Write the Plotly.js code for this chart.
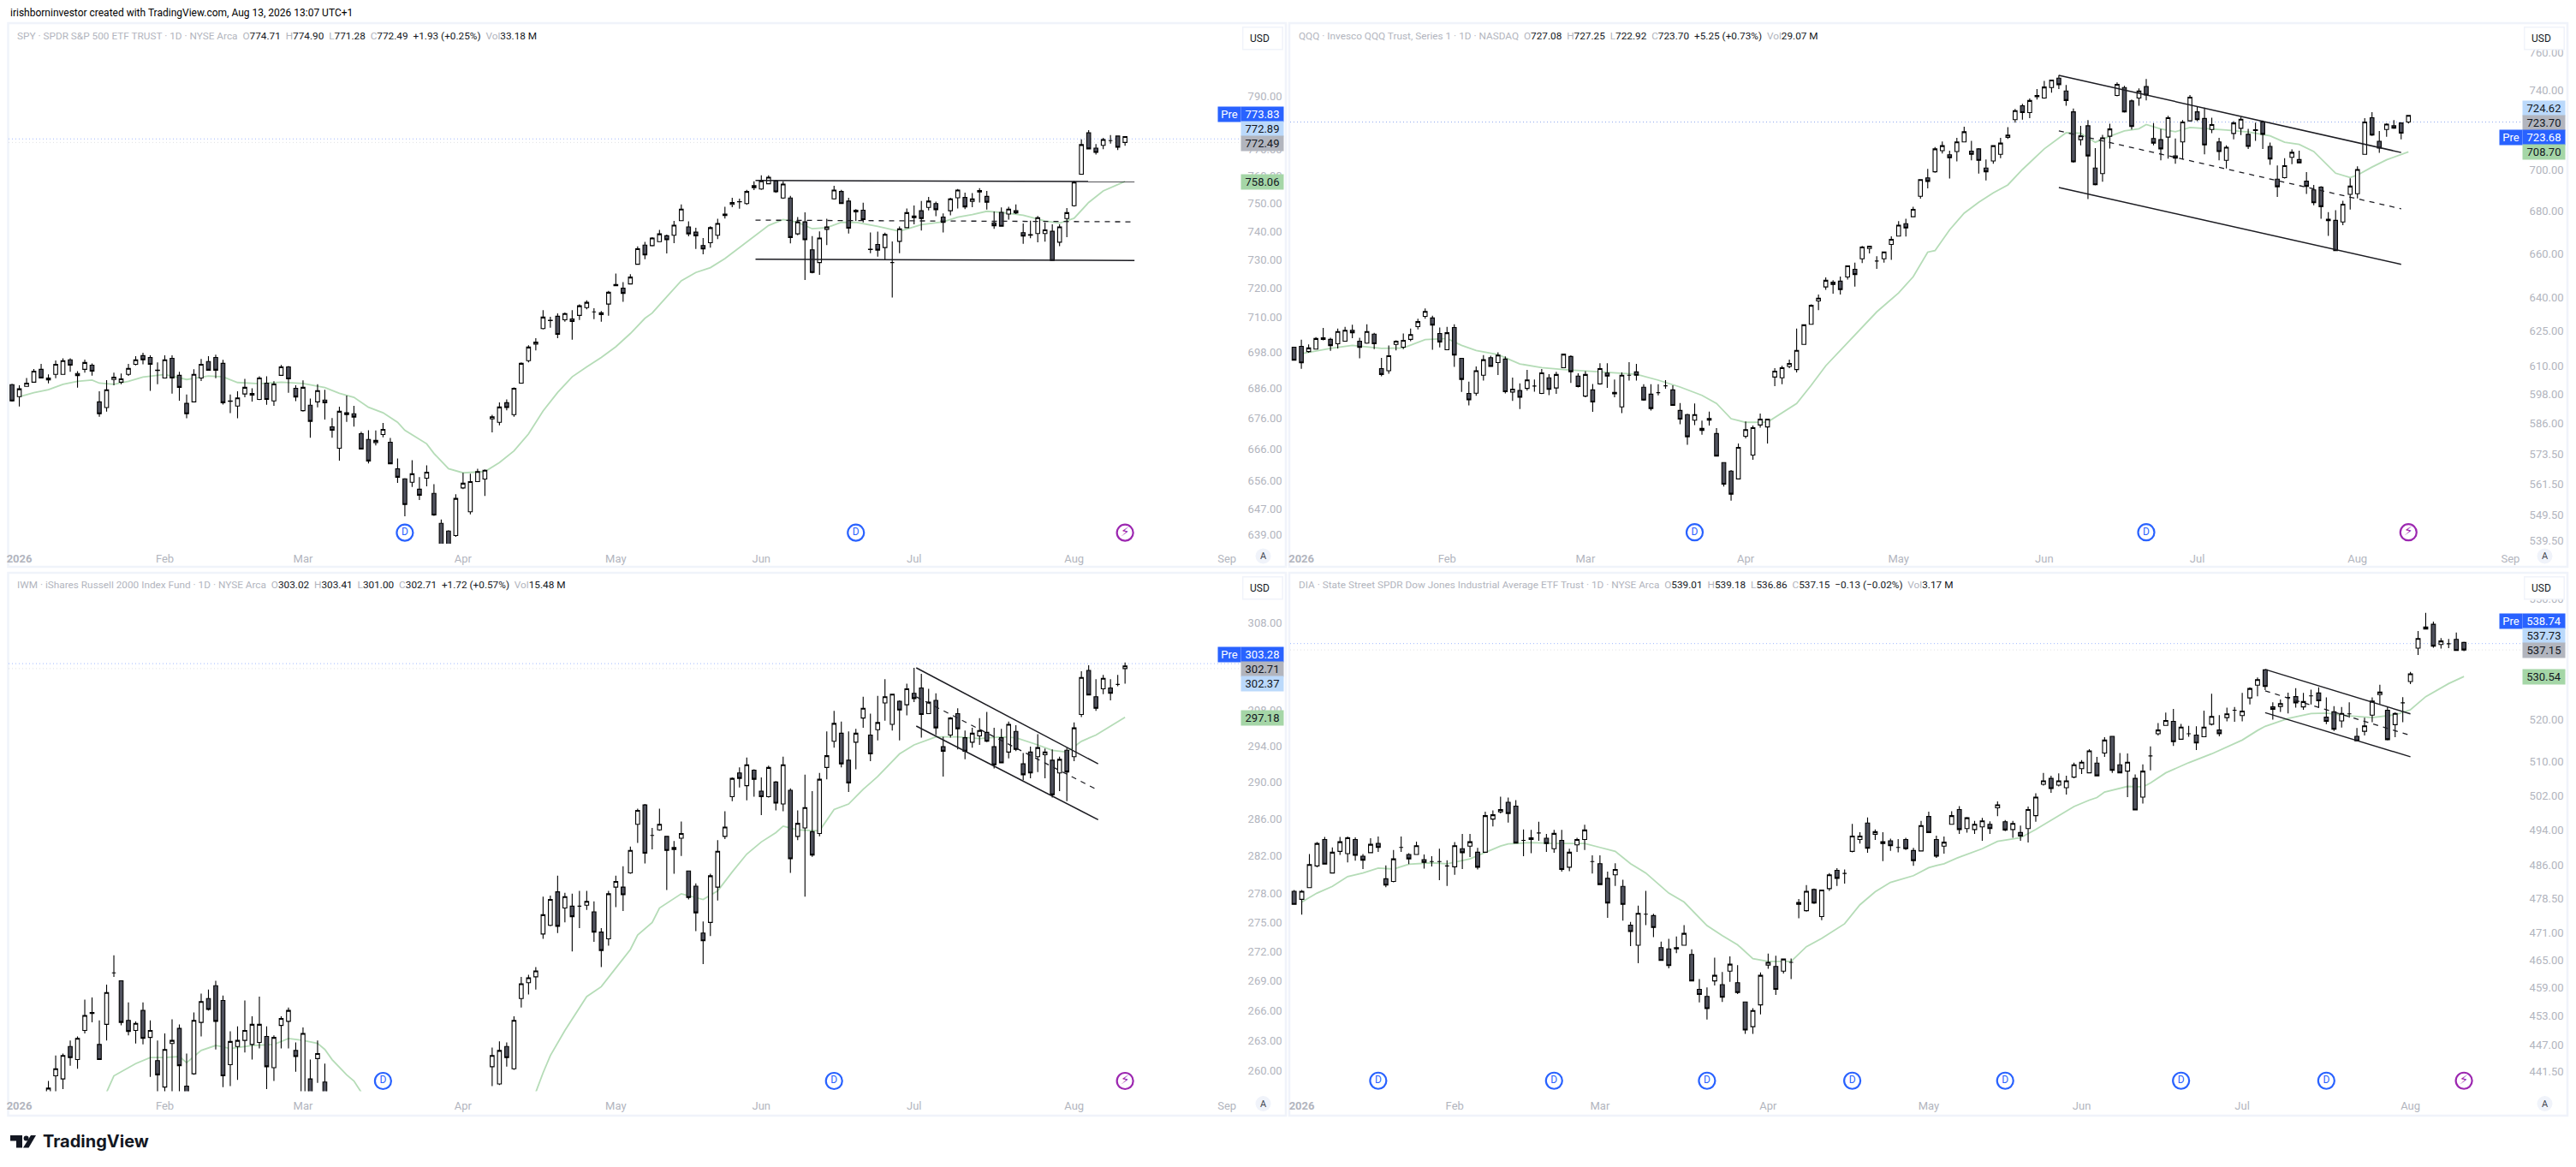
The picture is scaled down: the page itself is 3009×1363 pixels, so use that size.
<!DOCTYPE html>
<html>
<head>
<meta charset="utf-8">
<script src="https://cdn.plot.ly/plotly-3.0.1.min.js"></script>
<style>html,body{margin:0;padding:0;background:#fff}#c{width:3009px;height:1363px}</style>
</head>
<body>
<div id="c"></div>
<script>
// Columns of each bar table: body top, body bottom, high, low, hollow(1)/filled(0)
const spyBars=[
[687.1,681.7,687.4,681.5,0],[685.7,683.1,686.9,679.9,1],[687.6,686.5,689.3,686.4,1],[691.6,687.9,692.3,687.8,1],[692.2,689.3,694,689.2,0],[689.3,688.7,690.5,687.5,0],[693.9,690.5,695.2,689.2,1],[695.1,690.5,695.9,690.4,1],[695.4,693.6,695.9,691.4,0],[690.8,690.1,691.6,686.1,0],
[694.5,692.2,695.5,691.1,1],[693.6,691.6,694.2,690.1,0],[681.4,677.5,684.9,676.5,0],[685.4,679.5,688.6,678.2,1],[689.6,688.8,691.1,686.9,1],[689,687.9,690.8,687.2,1],[692.5,690.5,694,690,1],[695.4,693.9,696.6,693.5,1],[696.8,695.4,697.8,693.9,0],[696.2,693.9,696.9,685,0],
[691.9,691.8,694.5,687.2,0],[695.4,689.3,696.9,689.2,1],[695.9,689.3,696.9,684.1,0],[690.2,686.2,691.4,681.8,0],[680.9,677.5,683.8,676,0],[690.5,681.4,692.2,681.2,1],[693.9,689.3,695.7,688.3,1],[694.8,691.9,696.6,691.8,0],[696.2,691.9,697.1,689.2,0],[694.2,681.1,695.4,680.5,0],
[681.7,681.6,683.8,677.7,0],[682.7,680,684.9,676,1],[686.2,684,689,682.9,1],[684.2,683.6,685.9,681.5,0],[689.3,682.2,689.9,682,1],[687.6,682.2,689.9,680.4,0],[687.3,681.7,688.2,680.1,1],[693,690.2,693.7,690,1],[693,689,693.3,684.4,0],[685.9,683,686.9,681.6,0],
[686.2,678.5,688.5,678.2,1],[680.3,675,682.5,669.7,0],[685.1,681.4,687.2,679.6,1],[682,681.1,685.4,675.6,0],[673.2,672.1,676.1,669.7,0],[678.3,666.3,679.8,662.3,1],[677.8,677.2,683.5,674.8,0],[677.5,676.4,680.1,673.3,0],[671,666,671.6,665.9,0],[669.1,662.2,672.1,661.4,0],
[668.8,668.1,672,667.2,1],[672.4,670.7,674.5,669.8,1],[668.2,661.3,669.6,661.2,0],[659.7,657,663,655.2,0],[656.5,648.4,656.7,644.7,0],[658.1,655.4,662.4,653.9,1],[653.2,651.3,657,649.8,0],[658.6,656.7,660.8,654.1,1],[651.9,645.1,654.8,644.8,0],[642.5,634.5,643.7,633.6,0],
[640.1,634.9,640.4,633.6,0],[650.3,638.7,651.6,638.3,1],[655.1,653.6,658.4,653.2,1],[655.6,646.1,658.1,645.3,1],[658.8,655.6,659.7,655.5,1],[659.2,656.4,659.5,651.1,1],[676.5,675.8,677.1,671.4,1],[679.7,674.7,681.2,673.7,1],[681.1,679.5,682.2,678.6,0],[685.9,677.2,686.2,676.5,1],
[694.2,687.6,694.5,687.5,1],[699.7,695.1,700.3,694.5,1],[701.4,700.7,702.7,698.6,1],[709.9,706,712.3,705.7,1],[708.8,708.7,710,706.3,1],[710.2,704,711.2,702.7,0],[711.1,709,711.5,708.3,1],[709.3,708.4,712.3,702.2,0],[713.8,710.5,714.3,708.9,1],[715,713.2,715.7,712.6,1],
[711.7,711.7,713,709.2,1],[711.4,710.8,712,708.3,0],[718.5,714.4,719,710.4,1],[721.2,720.8,725,720.8,1],[719.9,718.1,722,715.2,0],[723.8,721.4,724.8,721.4,1],[733.8,728.3,734.6,728.3,1],[735.1,731.6,736.2,730.1,0],[737.6,734.9,737.9,734.6,1],[739.1,736.3,740.5,736.3,1],
[738.4,737,738.8,732.1,0],[742.2,738.6,743.7,735.8,1],[748,743.8,749.7,743.7,1],[741.6,739.1,743.6,738.2,0],[739.7,738.4,741.3,733.7,0],[734.9,733.7,737.6,731.8,0],[741.3,735.9,741.8,734.2,1],[742.8,738.6,744.5,737.2,1],[746.2,745.7,748.8,744.6,1],[750.4,749.7,752.1,748.7,1],
[750.7,750.6,751.8,748.1,0],[754.4,750,755,749.5,1],[756.5,755.8,758.1,754.9,1],[758.3,755.3,760.3,755,1],[759.6,757.2,760.3,757.1,1],[758.2,754.3,758.5,753.9,0],[757.1,752,758.1,751.7,1],[752,737.8,752.8,735.7,0],[743.4,739.1,745.1,738.6,1],[743.4,737,746.8,722.8,0],
[733.4,725.4,738.3,725.1,0],[737.6,728.9,740,724.6,1],[741.6,740.7,744.5,735.1,1],[754.9,751.7,756.5,751.5,1],[754.4,750,755,749.9,0],[750.9,741.1,752.1,739.2,0],[747.6,747,748,743.7,1],[747.6,744.2,750.3,743.2,0],[733.6,733.5,739.6,732.2,0],[735.3,733.3,739.9,731,0],
[738.9,734.2,739.5,729.7,1],[728.9,728.9,736.4,716.7,0],[740.9,736.4,741.7,732.2,1],[746.7,741.3,748.2,741.1,1],[745.5,744.9,749.3,742.5,0],[747.4,744.6,750.9,740.3,0],[750.9,748.6,752.4,747.5,1],[750,747.8,750.7,745.4,0],[745.1,743.2,746.4,739.6,0],[751.7,747.4,752.1,745.7,1],
[754.9,752.1,755.3,748.2,1],[752.2,748.8,754,748,0],[751.7,750.8,753.8,748.7,1],[754.7,754.2,755.6,750.4,0],[752.6,750.5,754.6,747.8,0],[743,742,747.1,740.9,0],[746.8,741.8,748.6,741.7,0],[748,746.2,748.8,744.2,1],[747.4,746.6,749.7,746.2,0],[739.5,738.3,742.8,735.5,0],
[738.8,738.6,743.8,737.5,0],[744.9,739.2,745.5,736.1,1],[740.5,739.2,743.2,736.3,1],[740,729.6,742.5,729.5,0],[741.6,736.1,742.5,734.7,1],[746.7,744.6,748.4,737.9,1],[757.8,749.2,758.3,748.9,1],[771.7,760.7,773.7,760.6,1],[776.1,770.1,777.1,770,0],[770.4,768.8,771.9,768,0],
[773.6,771.4,774.2,770,1],[773.2,773.2,775.3,772.1,1],[774.9,770.7,775,769.7,0],[774.7,772.49,774.9,771.28,1]];

const qqqBars=[
[618,612.4,618,612.4,0],[618.4,611.3,621.3,608.7,0],[617.7,616.1,619.2,615.6,1],[621.8,617.2,622.4,617,1],[622.1,621.4,626.4,621,1],[621.4,618.7,622.1,616.4,0],[624.8,619.5,626.1,617.5,1],[625.4,620.6,626.9,620.5,1],[625.4,624.3,627.8,621.9,0],[620.6,617.9,622.1,613.2,0],
[624.8,619.8,628,619.5,1],[623.7,619.5,624.3,617.2,0],[608.8,606.3,613.4,605.5,0],[614.3,607.9,618.8,606.6,1],[620.6,619.2,621,616.6,1],[621,618,624,617.2,1],[623.5,621.4,626.1,620.6,1],[629.2,627,630.5,625.8,1],[633.7,631.5,635,630.5,1],[630.8,627.7,631.8,616.9,0],
[624,620.3,626.6,617.9,0],[624.3,616.9,626.9,616.7,1],[626.6,614.6,628,609.5,0],[613.2,604.2,613.4,598.9,0],[598.3,595.6,603.3,593.3,0],[607.9,598.4,609.7,597.3,1],[612.6,606,614.6,603.7,1],[613.5,609.7,614.3,609.5,0],[614.6,611.4,615.8,606.1,1],[612.9,599,614,598.3,0],
[600.1,598.9,605,595.2,1],[599.5,596.7,602.5,591.8,0],[604,600.4,608.3,599.5,1],[601.4,601.4,604.2,599,0],[607,598.3,608.6,598,1],[604.9,600,606.4,597.6,0],[606.3,600.6,607.4,598.1,1],[615,609.2,615.1,609,1],[614,607.5,614.5,602.7,0],[605.6,601.2,606.8,600.8,0],
[606.3,597.2,607.7,596.7,1],[599.8,594.7,602.3,590.6,0],[608.8,602.3,611.1,602,1],[606.9,605.6,611.1,600.6,0],[598.7,598.1,604.2,596.7,0],[606,592.7,607.2,590.1,1],[606,606,611.6,603.7,0],[607.4,606,610.8,603.7,0],[600.9,595.5,602.2,595.3,0],[598,592,602.2,591.2,0],
[598.6,598.6,602.2,597.5,1],[601.5,601.5,603.9,600.3,1],[599.8,593.3,601.7,593.2,0],[591.2,587.6,594.3,585.5,0],[589.5,580.4,589.8,577.1,0],[589.5,587.2,594.1,585.2,1],[583.8,583,587,581.2,0],[587.9,587.2,590.7,585,1],[581.7,572.6,583.9,572.5,0],[570,561.4,570,560.5,0],
[566.6,557.5,567,555,0],[576.1,563.5,577.7,563.3,1],[583.3,580.6,586.7,579.7,1],[584.1,573,585,571.1,1],[587.6,585.2,589.9,584.1,1],[587.6,584.4,587.8,577.7,1],[607.7,605.2,609,601.4,1],[609.2,604.9,610,602.2,1],[611,609.7,612.7,609,1],[616.6,608.4,626.1,607.2,1],
[627.8,619.2,628,619,1],[636.4,628,636.8,627.8,1],[639.6,638.4,641.3,634.3,1],[647.7,644.7,649,643.4,1],[646.8,645.8,647.7,641.6,0],[647.3,643.5,649.4,641.3,0],[654.3,649.2,654.4,648,1],[652.7,650.3,655.8,644.8,0],[663,657.5,663.5,655.6,1],[663.4,662.3,663.5,660,1],
[656.5,656.5,658.7,652.9,1],[660.7,657.5,660.7,655.8,1],[666.6,664.2,668,657,1],[673.2,668.1,675.1,667.9,1],[673.9,671.9,676.2,667.9,0],[680.7,677.2,682,677,1],[695.1,687,695.3,685.9,1],[695.9,694.2,700.3,690.8,0],[710.2,698.9,711.1,698.4,1],[711.8,709.3,713.9,707.9,1],
[707.3,705.8,709.3,695.6,0],[713.7,708.9,715.7,704,1],[718.8,713.7,721.3,713.5,1],[709.1,707.5,714.2,704.5,0],[710.2,704.5,710.6,698,0],[700.7,698.9,704.9,694.7,0],[711.8,704.2,712,702.8,1],[713.1,707.5,715.7,705.6,1],[717.1,716,721.1,715.2,1],[729.5,724.9,730.4,723.4,1],
[732,728.5,733,724.9,0],[734.7,728.5,735.8,725.7,1],[737.3,736.7,740.6,735.2,0],[741.7,736,744.9,735.6,1],[745.3,741.4,745.5,738.7,1],[746.3,742.9,747.9,740.6,0],[739.6,734.7,742.7,732,0],[728.9,703.8,730.6,703.4,0],[716.7,714.8,721.8,712,1],[721.8,706.7,724.7,685.6,0],
[700.7,692.6,710.6,692.3,0],[715.7,698,717.2,694,1],[720.2,716.5,722.8,710.4,1],[743.1,737.3,744.1,736.9,1],[741.4,728.9,742.3,728.5,0],[734.5,721.4,735.2,719.9,0],[739.6,736,741,732,1],[741.9,737.5,745.9,734.8,0],[715.4,713.1,723.2,712,0],[714.8,710.2,720.2,704.5,0],
[725.9,716.1,726.9,705.4,1],[706.7,705.6,715.4,702.8,0],[723.7,713.7,724.7,704.9,1],[736.4,724.3,737.5,723.9,1],[728.9,724.9,731.6,724.1,0],[725.5,712.2,731,707.5,0],[722.4,719.9,725.9,718.1,1],[713.7,708.9,715.7,704.5,0],[711,704.5,712,700.5,1],[723.2,717.9,724.1,715,1],
[725.1,720.5,726.3,717.1,1],[717.5,711.4,720.2,710.2,0],[719.8,719.4,723.4,714.2,0],[723.7,717.5,724.5,710.2,0],[711.4,705.2,713.3,702.3,0],[695.3,691.6,702,686.7,0],[701.9,696,705.6,695.6,1],[708.5,706,709.9,702.6,1],[704.9,703.3,709.3,703.1,0],[694.3,691.8,698.7,688.1,0],
[690.1,683.9,692.5,682.7,0],[691.4,682,691.8,676.2,0],[676,675.3,679.4,668.2,0],[675.5,661.3,680.3,661.3,0],[683.2,674.7,684.8,673.2,1],[691.9,687.9,695.7,680.6,1],[700,688.2,701.6,686,1],[723.7,707.5,725.7,707.3,1],[725.9,717.1,728.7,716.7,0],[714,710.6,719.2,708.2,0],
[722.6,719.9,723,716.3,1],[721.8,720.6,724.7,720.2,0],[723.2,718.1,723.4,715,0],[727.08,723.7,727.25,722.92,1]];

const iwmBars=[
[null,null,null,null,1],[null,null,null,null,1],[null,null,null,null,1],[null,null,null,null,1],[null,null,null,null,1],[258.3,256,259,255.5,1],[260.2,259.5,261.5,257.6,1],[261.5,259.2,261.7,258.2,1],[262.4,261.3,263,260.5,0],[263.2,261.1,263.4,260.2,1],
[265.5,264,267.1,263.7,1],[265.8,265.7,267.3,264.8,0],[262.6,261.1,265,261.1,0],[267.8,264.6,268.6,263,1],[269.8,269.8,271.6,269.4,0],[269,264.8,269,264.5,0],[265,263.9,266.8,263.5,0],[264.7,264,264.9,262.7,1],[266,263.2,266.8,262.6,0],[264,263.3,265,259.4,1],
[261,259.6,263,257.6,0],[262.1,258.4,263.7,257.7,1],[263,262.7,265.1,257.6,1],[264.2,260.5,264.6,257.4,0],[258.5,256.8,261.7,256,0],[265,259.7,265.8,259.6,1],[266.9,264.8,267.7,263.4,1],[267.2,266.1,268.1,266,0],[268.5,264.9,269,262.1,0],[267,259.5,267.5,258.4,0],
[262.9,260.6,263.9,258.5,1],[263,262.4,264.4,259.1,1],[264,263,267,261.8,1],[264.6,262.6,265.4,261.1,1],[264.6,262.8,267.4,262.2,1],[263.4,260.4,264.4,258.2,0],[263.3,260.3,263.5,259,1],[265.2,264.5,265.4,262.2,1],[266,264.9,266.3,262.2,1],[262,261.4,262.8,259.9,0],
[263.7,257.6,264.3,257.4,1],[259.2,256.9,261.1,256.5,0],[261.7,261.2,263,258.8,1],[258.9,256.9,260.7,256.5,0],[null,null,null,null,1],[null,null,null,null,1],[null,null,null,null,1],[null,null,null,null,1],[null,null,null,null,1],[null,null,null,null,1],
[null,null,null,null,1],[null,null,null,null,1],[null,null,null,null,1],[null,null,null,null,1],[null,null,null,null,1],[null,null,null,null,1],[null,null,null,null,1],[null,null,null,null,1],[null,null,null,null,1],[null,null,null,null,1],
[null,null,null,null,1],[null,null,null,null,1],[null,null,null,null,1],[null,null,null,null,1],[null,null,null,null,1],[null,null,null,null,1],[261.5,260.4,262.3,258.5,1],[262,258.7,262.9,258.6,1],[262.4,261.3,262.8,260.4,0],[265,260.2,265.4,260.1,1],
[268.7,267.2,269.4,266.3,1],[269.3,268.8,269.6,267.6,1],[270,269.4,270.4,268.1,1],[275.8,273.8,277.7,273.3,1],[277.4,274.7,277.8,274.6,1],[278.2,274.6,279.9,273.9,0],[277.7,276.5,278.1,275,1],[276.7,275.6,278,272,0],[276.7,276.7,278.3,274.4,1],[277.2,276.8,278.3,276.3,1],
[276.1,274,277.2,273,0],[274,272.1,274.4,270.4,0],[278,273.3,278.3,272.6,1],[279.3,278.7,279.9,276.6,1],[278.7,277.9,280.9,276.2,0],[282.6,280.2,283,280.1,1],[286.9,285.4,287.1,283.4,1],[287.5,282.3,287.6,281.2,0],[284.2,284.2,285,282.7,0],[285.4,284.8,287.1,284.7,1],
[284.1,282.6,284.1,278.4,0],[282.9,282.7,283.6,280.1,1],[284.4,283.9,285.7,282,1],[280.4,277.6,280.4,277.4,0],[278.8,276,279.1,274.1,0],[273.9,273.1,275.1,270.7,0],[279.9,275,280.1,273.6,1],[282.5,278.7,283.7,277.3,1],[285.1,284.1,286.8,283.8,1],[290.4,288.4,290.5,287.9,1],
[291,290.4,291.6,289.4,0],[291.9,289.6,292.7,288,1],[291.3,290.3,291.4,288.4,0],[289,288.4,290.5,286.4,0],[291.6,288.4,291.8,288.3,1],[290,287.7,290.1,286.9,0],[291.9,287.6,292.8,286.8,1],[289.1,281.7,289.3,280.2,0],[285.5,284.1,286.9,283.7,1],[287.2,285,290.8,277.7,1],
[284.6,282.1,289,281.9,0],[290.3,284.4,291,284.1,1],[292.9,291.6,295.6,290.3,1],[296.5,294.5,297.9,293.8,1],[295.4,292,296.7,291.6,0],[292.4,289.9,295.6,288.9,0],[295.4,294.4,295.9,291.4,1],[298.2,297.1,299.5,296,1],[295.2,293.1,297.6,292.3,0],[296.6,295.8,299.6,294.6,1],
[299.5,298.8,301.5,296.8,1],[299.8,296.4,299.8,295.7,1],[299,298,299.1,294.6,0],[300.4,298.6,301,297.4,1],[299.9,299.3,302.8,298.9,0],[300.5,297.5,302.1,294.9,0],[298.9,297.6,300.4,297.6,1],[299.1,296,299.9,295.2,0],[293.9,293.4,295,290.6,0],[297.1,295.2,297.2,294.9,1],
[297.6,295.9,298.2,293.6,0],[294.9,293.4,295.7,292.5,0],[295.4,294.4,296,293.8,1],[295.7,295.1,297.1,294.1,1],[295.5,294.5,297.8,294.4,0],[293.9,291.9,296,291.5,0],[294.9,292.1,295.9,292.1,0],[296.4,293.3,296.7,292.6,1],[295.6,293.6,296.3,293.4,0],[292,290.8,293.2,290.2,0],
[293.3,291,293.9,290.4,0],[293.8,292.8,295.3,291.1,1],[293.3,293,293.7,290.4,1],[292.4,288.6,293.6,288.3,0],[292.5,291,292.8,289,1],[293.5,291.1,293.8,287.9,0],[296,292.8,296.6,292.3,1],[301.7,297.5,302.4,297.2,1],[302.5,299.7,303.1,299.7,0],[299.5,298.2,301.5,297.9,0],
[301.6,300.4,302,299.8,1],[300.5,299.9,301.5,299.1,0],[300.9,300.9,302,300.7,1],[303.02,302.71,303.41,301,1]];

const diaBars=[
[480.1,477.2,480.4,477.1,0],[480.1,478.3,480.4,474.9,1],[486.1,480.9,488.5,480.8,1],[490.9,485.8,491.2,485.5,1],[491.8,486.2,492.4,486.1,0],[488.9,484.2,490,484.1,1],[491.3,489.1,492.4,488.3,1],[492.2,488.6,492.5,486.6,1],[491.8,488.2,492.3,487,0],[488,487.1,488.5,485.1,0],
[490.7,488.8,492.1,488.7,1],[490.9,490,492.5,489,0],[482.9,481.5,485.9,481,0],[487.4,482.3,489.4,482.1,1],[490,490,492.5,489,0],[488.4,487.4,488.7,486.2,0],[490.4,488.4,491.3,488.3,1],[487.2,486.6,488.4,485.2,0],[486.8,486.8,488,485.7,0],[486.8,486.8,489.7,482.6,1],
[485.8,485.8,487.1,481.3,0],[490.4,485.6,491.2,483.8,1],[489.7,488.8,493.1,485.1,0],[491.3,490.3,493.1,487.8,1],[488.9,485.5,489.9,485,0],[497.3,488.9,498.2,488.8,1],[497.5,496.5,498.5,494.8,1],[498.7,498.2,501.7,497.8,1],[500.4,497.8,501.5,495.7,0],[499.5,491,500.9,490.9,0],
[491.6,491.6,494.1,488,0],[492.2,491.8,494,488.7,1],[493.3,493.3,495.9,491.5,0],[492.1,490.9,493.1,489,0],[493.2,489.7,494,488.8,1],[491.6,485,494,484.5,0],[488.9,485.5,489.7,484.6,1],[491.8,490.6,492.2,489,1],[494,491.8,495.2,489.4,1],[486.8,486.8,488.2,484.1,1],
[486.3,481.6,488.2,481.5,0],[483,477.5,484.5,474.2,0],[485,483.8,486.4,481.3,1],[481.2,477.2,482.7,473.6,0],[472.6,471.2,473.3,468,0],[475.2,468.2,476.9,464.3,1],[475,475,480.2,472.6,1],[474.7,472.1,475.1,470,0],[467.7,464.9,469,464.8,0],[467.4,463.8,469.6,463.2,0],
[467.7,467.4,470.1,466.5,1],[470.8,468.2,472.6,468.1,1],[466.2,460.5,467.3,460.4,0],[458.7,457.6,460.9,455.9,0],[457.2,454.6,459.1,452.3,0],[461.7,460.5,465.5,459.5,1],[459.7,457,462.4,456,0],[464.1,462.6,465.8,460.3,1],[460.1,458,463.9,457.7,0],[456,450.1,456.1,449.3,0],
[454.2,450.8,454.7,449.3,1],[461.7,455.4,462.3,453.4,1],[464.5,463.9,466.4,463.1,1],[463.6,458.7,465.9,457.5,0],[465.2,462.6,465.3,462.1,1],[464.5,464.5,465.3,460.9,1],[477.6,477.2,478.4,474.1,0],[480.1,475.8,481.5,475.6,1],[480.5,477.5,480.7,477.3,0],[480.4,474.5,480.5,473.7,1],
[483.8,480.7,484.2,480.2,1],[484.8,483,485.3,481.3,0],[484.1,484.1,485,481.8,1],[492.6,489.1,495.4,488.9,1],[492.6,491.8,493.5,490.9,1],[495.6,489.8,496.9,488.8,0],[493.6,493,494.1,491.7,1],[491.3,490.9,493.5,486.9,0],[491.5,490.4,492,489.2,0],[490,490,491.9,488.9,1],
[491.8,489.7,492.2,489.4,0],[489.3,487,489.9,485.8,0],[495,489.2,496.1,489.1,1],[497.1,493.4,498.2,493.3,0],[491.8,488,492.7,487.6,0],[491.2,490.3,492.5,488.6,1],[497.3,495.3,498.3,495.2,1],[498.7,494.1,499.5,493.1,0],[496.8,494.3,497,493.4,1],[495.3,494.1,496.1,493.1,1],
[496.1,494.7,496.8,491.5,1],[495.3,494.3,496,493.1,0],[499.8,499.1,500.6,497.2,1],[495.9,494,496.3,493.7,0],[495.5,494.1,496.1,492.2,1],[493.4,492.6,495,491.5,0],[498.7,494.3,499.4,491.1,1],[501.6,497.3,502.5,495.9,1],[505.4,504.6,507.3,504.3,1],[506,503.6,506.6,502.6,0],
[505.4,504.4,507.2,504.1,1],[505.4,503.8,506.6,502.2,1],[509.2,506.3,509.7,506,1],[509.8,508.3,510.3,507,1],[512.5,507.3,512.9,507.2,1],[509.6,506.6,511.1,506.5,0],[515.1,512,515.8,511.1,1],[516,507.9,516,507.3,0],[509.2,507.3,512,507.2,0],[509.8,507.7,511.9,501.6,1],
[506,498.6,506.9,498.5,0],[507.7,501.6,509.3,500.1,1],[511.3,511.3,513.6,507.9,1],[517.5,516.6,519.2,516.2,1],[519.8,518.6,521.7,518.5,1],[519.6,514.7,522.6,513.7,0],[518.2,515.3,519,515.2,1],[516.6,516.6,518.5,515.9,0],[516.3,514.4,518.4,512.7,0],[518.2,515.9,522.2,515.8,1],
[520.8,518.9,526.3,518.6,1],[517.5,516.6,521.1,516,0],[521.4,520.5,522.9,519.6,1],[522.3,522.3,523.1,519.5,1],[522.1,521,526.5,519.6,1],[527.6,525.3,527.9,523.7,1],[529.8,528.4,530.3,525.7,1],[532.2,528.1,532.4,527.2,0],[523.1,522.5,524.2,520,0],[523.9,523.2,524.9,521.9,1],
[525.4,525.4,526.6,521.5,1],[525.6,524.1,527.7,522.9,0],[524.4,523.1,526.5,522.4,1],[525.8,525.8,527.3,523.7,1],[526.5,524.6,527.9,522.9,0],[520.6,519.6,525.4,518.9,0],[521.9,517.7,523.3,517.3,0],[521.5,519.7,523.1,518.1,1],[521.4,521.4,524.2,520.5,1],[516,514.9,518,514.8,0],
[518.5,517.2,520.5,516.2,1],[524.5,521.1,525.4,519.4,1],[526.7,526.1,528.5,523.8,1],[522.3,515.2,523,515,0],[521.5,518.8,521.8,515.8,1],[524.1,524.1,525.5,519.4,0],[531.2,529.3,531.7,528.7,1],[540,537.6,541.9,535.9,1],[542.9,542.4,546.5,542.3,1],[543.6,538.1,544.3,537.7,0],
[539.4,538.5,540.1,537.5,1],[538.7,538.7,539.9,537.6,0],[539.8,537,541.5,536.9,0],[539.01,537.15,539.18,536.86,0]];

// Moving-average lines: bar number, price (null breaks the line)
const spyMaX=[1,3,5,7,9,11,12,14,16,18,21,24,27,29,31,34,37,40,43,45,47,49,51,53,54,57,58,60,62,65,67,69,71,73,75,77,79,81,83,85,87,88,90,92,94,96,98,100,102,104,106,108,110,112,114,116,119,122,125,128,130,132,134,136,139,142,144,146,148,150,153];
const spyMaY=[683.1,684.4,685.4,687.2,688.2,688.6,687.6,687.2,688.2,689.6,690.5,688.8,690,689.7,687.8,687.4,687.9,687.5,686.1,684.2,682.9,679.6,677.8,674.7,672.1,667.7,664.6,659.7,658.4,658.8,661.7,665.4,670.9,678.4,684.5,689.7,693,696.2,699.8,704.3,709.5,711.3,716.9,722.5,725.4,727.1,730.3,734.2,738.2,742.1,744.2,743.2,740.9,741.3,743.2,743.2,741.8,740,742.4,743.4,745.1,746,747.2,746.8,745.8,743.7,742.9,744.7,750.4,754.6,758.06];
const qqqMaX=[1,5,8,12,15,18,21,23,25,28,31,34,37,40,43,47,50,53,56,58,60,62,65,69,71,73,76,78,80,83,85,87,88,90,92,94,96,98,100,103,106,108,110,112,114,116,117,119,121,123,125,128,131,134,136,138,140,142,143,145,146,148,150,153];
const qqqMaY=[615.2,617.5,618.8,617.5,617.7,621.3,621.8,618.8,616.6,614.8,610.8,609.2,608.4,607.9,607.2,606.4,603.9,601,597.5,594.1,587.8,586.3,586.4,594.1,601.7,610,620.1,627,633.5,642,649.3,660.6,661.3,671,678.9,684.1,688.6,692.5,700,710.2,718.3,718,713.5,716.5,719.2,720.3,722.4,720.2,718.8,720.9,720.5,719.6,718.7,716.7,713.5,712.4,708.9,701.9,698.2,696.1,697.3,701.2,704.8,708.7];
const iwmMaX=[13,14,17,19,21,23,24,26,28,30,33,36,38,40,42,43,44,46,47,48,49,72,73,74,76,79,81,83,85,86,88,89,91,92,95,97,99,101,103,105,106,108,111,113,115,117,119,122,124,127,130,133,136,138,141,143,145,147,149,151,153];
const iwmMaY=[257.9,259.5,260.7,261.3,261.3,261.4,260.8,262,262.5,262.2,262.5,262.6,263.2,263,262.7,262.1,261.1,259.6,259,257.9,null,257.9,259.8,261.5,264,267.4,268.4,270.3,272.2,273.7,275,276.5,277.5,278,277.4,278.3,280.3,282.2,283.5,284.5,285.2,284.8,284.7,287,287.6,289.2,290.6,293.1,294.1,295,295,294.8,295,294.9,294.1,293.5,293.3,294.5,295.2,296.2,297.18];
const diaMaX=[1,3,5,7,9,11,13,15,18,20,23,25,27,28,31,34,38,40,42,44,46,49,51,54,56,58,60,62,65,67,69,72,74,76,78,81,83,84,85,87,90,92,95,97,100,102,104,105,106,109,111,112,114,117,120,124,126,127,130,133,135,138,141,144,146,148,151,153];
const diaMaY=[477.7,479.7,481.2,483.4,484.2,485.3,485.1,486.2,486.5,486.3,487.4,488.8,490.3,490.8,491.1,490.9,490.9,490,489.1,486.3,484.2,479.7,477.7,472.5,470.3,468.3,465.3,464.7,464.7,467.9,469.7,472.9,477.1,480,482.1,483.6,485.4,485.9,486.3,487.8,489.7,491.4,492.2,494.1,497.2,499.4,500.9,501.5,502.8,504.1,504,504.9,507.3,509.7,511.8,515.1,517.4,518.4,520.3,521.5,521.6,520.9,520.5,521.2,522.4,525.6,528.8,530.54];

// Drawn trend channels: start bar, end bar, then prices at each end
const spyChannelX=[102.2,154.3], spyUpper=[758.4,758.0], spyMid=[744,743.4], spyLower=[730.1,729.6];
const qqqChannelX=[105,152],     qqqUpper=[747.8,708.4], qqqMid=[719.2,681],  qqqLower=[691.2,655];
const iwmChannelX=[124.3,149.3], iwmUpper=[302.8,292],   iwmMid=[299.5,289.1],iwmLower=[296.2,285.9];
const diaChannelX=[127,146],     diaUpper=[532.3,521.4], diaMid=[527,516.2],  diaLower=[521.7,511.1];

const monthBars=[1,21,40,62,83,103,124,146,167];
const monthNames=['<b>2026</b>','Feb','Mar','Apr','May','Jun','Jul','Aug','Sep'];
const spyTicks=[790,770,760,750,740,730,720,710,698,686,676,666,656,647,639];
const qqqTicks=[760,740,700,680,660,640,625,610,598,586,573.5,561.5,549.5,539.5];
const iwmTicks=[308,298,294,290,286,282,278,275,272,269,266,263,260];
const diaTicks=[550,520,510,502,494,486,478.5,471,465,459,453,447,441.5];

const spyDividendBars=[54,116], qqqDividendBars=[55,117], iwmDividendBars=[51,113], diaDividendBars=[11,34,54,73,93,116,135];

const SANS='Roboto, sans-serif';
const W=3009,H=1363;
const px=x=>x/W, py=y=>1-y/H;

const panels=[
 {name:'SPY',bars:spyBars,maX:spyMaX,maY:spyMaY,cx:spyChannelX,up:spyUpper,mid:spyMid,lo:spyLower,ticks:spyTicks,div:spyDividendBars,
  box:[10,1449,28,635],frame:[9.5,1502,27,662],xr:[-0.478,168.87],yr:[2.80360,2.91279],iconY:639.6,pre:773.83,last:772.49,titleX:18,titleY:42,
  head:'SPY · SPDR S&amp;P 500 ETF TRUST · 1D · NYSE Arca',o:'774.71',h:'774.90',l:'771.28',c:'772.49',chg:'+1.93 (+0.25%)',vol:'33.18',
  labels:[['773.83','#2962ff','#ffffff',133.6,true],['772.89','#bbd9fb','#131722',150.5],['772.49','#b2b5be','#131722',167.8],['758.06','#a5d6a7','#131722',212.5]]},
 {name:'QQQ',bars:qqqBars,maX:qqqMaX,maY:qqqMaY,cx:qqqChannelX,up:qqqUpper,mid:qqqMid,lo:qqqLower,ticks:qqqTicks,div:qqqDividendBars,
  box:[1507,2946,28,635],frame:[1506,2999,27,662],xr:[-0.54,168.6],yr:[2.73117,2.88941],iconY:542.8,pre:723.68,last:723.70,titleX:1514.5,titleY:42,
  head:'QQQ · Invesco QQQ Trust, Series 1 · 1D · NASDAQ',o:'727.08',h:'727.25',l:'722.92',c:'723.70',chg:'+5.25 (+0.73%)',vol:'29.07',
  labels:[['724.62','#bbd9fb','#131722',126.6],['723.70','#b2b5be','#131722',143.5],['723.68','#2962ff','#ffffff',160.5,true],['708.70','#a5d6a7','#131722',177.8]]},
 {name:'IWM',bars:iwmBars,maX:iwmMaX,maY:iwmMaY,cx:iwmChannelX,up:iwmUpper,mid:iwmMid,lo:iwmLower,ticks:iwmTicks,div:iwmDividendBars,
  box:[10,1449,672,1274.5],frame:[9.5,1502,669,1303],xr:[-0.478,168.87],yr:[2.41161,2.49634],iconY:259.0,pre:303.28,last:302.71,titleX:18,titleY:682.8,
  head:'IWM · iShares Russell 2000 Index Fund · 1D · NYSE Arca',o:'303.02',h:'303.41',l:'301.00',c:'302.71',chg:'+1.72 (+0.57%)',vol:'15.48',
  labels:[['303.28','#2962ff','#ffffff',764.6,true],['302.71','#b2b5be','#131722',781.4],['302.37','#bbd9fb','#131722',798.6],['297.18','#a5d6a7','#131722',838.4]]},
 {name:'DIA',bars:diaBars,maX:diaMaX,maY:diaMaY,cx:diaChannelX,up:diaUpper,mid:diaMid,lo:diaLower,ticks:diaTicks,div:diaDividendBars,
  box:[1507,2946,672,1274.5],frame:[1506,2999,669,1303],xr:[-0.52,160.6],yr:[2.64094,2.74516],iconY:439.6,pre:538.74,last:537.15,titleX:1514.5,titleY:682.8,
  head:'DIA · State Street SPDR Dow Jones Industrial Average ETF Trust · 1D · NYSE Arca',o:'539.01',h:'539.18',l:'536.86',c:'537.15',chg:'−0.13 (−0.02%)',vol:'3.17',
  labels:[['538.74','#2962ff','#ffffff',725.7,true],['537.73','#bbd9fb','#131722',742.5],['537.15','#b2b5be','#131722',759.7],['530.54','#a5d6a7','#131722',790.6]]}
];

const traces=[],layout={width:W,height:H,margin:{l:0,r:0,t:0,b:0,pad:0},paper_bgcolor:'#fff',plot_bgcolor:'rgba(0,0,0,0)',showlegend:false,hovermode:false,boxgap:0.24,
  font:{family:SANS,size:13,color:'#131722'},shapes:[],annotations:[]};

const axisBlank={showgrid:false,zeroline:false,showline:false};
const GRAY='#b2b5be',INK='#131722';
const note=(x,y,text,o={})=>layout.annotations.push(Object.assign({xref:'paper',yref:'paper',x:px(x),y:py(y),text,showarrow:false,xanchor:'left',yanchor:'middle',font:{family:SANS,size:13,color:INK}},o));
const rect=(x0,y0,x1,y1,o)=>layout.shapes.push(Object.assign({type:'rect',xref:'paper',yref:'paper',x0:px(x0),x1:px(x1),y0:py(y0),y1:py(y1),layer:'above'},o));

panels.forEach((p,k)=>{
  const n=k*2+2, xa='x'+n, ya='y'+n, xo='x'+(n+1), yo='y'+(n+1);
  const [x0,x1,y0,y1]=p.box;
  layout['xaxis'+n]=Object.assign({},axisBlank,{domain:[px(x0),px(x1)],range:p.xr,anchor:ya,tickmode:'array',tickvals:monthBars,ticktext:monthNames,
     ticks:'outside',ticklen:5,tickcolor:'rgba(0,0,0,0)',tickfont:{family:SANS,size:13,color:GRAY},rangeslider:{visible:false}});
  layout['yaxis'+n]=Object.assign({},axisBlank,{domain:[py(y1),py(y0)],type:'log',range:p.yr,anchor:xa,side:'right',tickmode:'array',tickvals:p.ticks,ticktext:p.ticks.map(v=>v.toFixed(2)),
     ticks:'outside',ticklen:5,tickcolor:'rgba(0,0,0,0)',tickfont:{family:SANS,size:13,color:GRAY}});
  layout['xaxis'+(n+1)]={overlaying:xa,range:p.xr,visible:false,anchor:yo,showgrid:false,zeroline:false,rangeslider:{visible:false}};
  layout['yaxis'+(n+1)]={overlaying:ya,type:'log',range:p.yr,visible:false,anchor:xo,side:'right',showgrid:false,zeroline:false};

  const idx=p.bars.map((_,i)=>i);
  // Base layer: price lines and moving average, beneath the bars
  traces.push({type:'scatter',mode:'lines',x:[p.xr[0],p.xr[1]],y:[p.last,p.last],xaxis:xa,yaxis:ya,line:{color:'rgba(120,123,134,0.22)',width:1,dash:'1px,3px'},hoverinfo:'skip'});
  traces.push({type:'scatter',mode:'lines',x:[p.xr[0],p.xr[1]],y:[p.pre,p.pre],xaxis:xa,yaxis:ya,line:{color:'rgba(41,98,255,0.45)',width:1,dash:'1px,3px'},hoverinfo:'skip'});
  traces.push({type:'scatter',mode:'lines',x:p.maX,y:p.maY,xaxis:xa,yaxis:ya,line:{color:'#b5dcb7',width:1.8},connectgaps:false,hoverinfo:'skip'});
  // Bars on the overlay
  traces.push({type:'candlestick',x:idx,xaxis:xo,yaxis:yo,
    open:p.bars.map(b=>b[4]?b[1]:b[0]),high:p.bars.map(b=>b[2]),low:p.bars.map(b=>b[3]),close:p.bars.map(b=>b[4]?b[0]:b[1]),
    increasing:{line:{color:'#000000',width:1.1},fillcolor:'#ffffff'},
    decreasing:{line:{color:'#000000',width:1.1},fillcolor:'#50525e'},
    whiskerwidth:0,hoverinfo:'skip'});
  // Channel lines
  [[p.up,'solid',1.5],[p.lo,'solid',1.5],[p.mid,'6px,6px',1.3]].forEach(([y,dash,w])=>{
    traces.push({type:'scatter',mode:'lines',x:p.cx,y,xaxis:xo,yaxis:yo,line:{color:'#1c1c22',width:w,dash},hoverinfo:'skip'});
  });
  // Dividend and earnings-style event badges
  traces.push({type:'scatter',mode:'markers+text',x:p.div,y:p.div.map(()=>p.iconY),text:p.div.map(()=>'D'),textposition:'middle center',textfont:{family:SANS,size:12,color:'#2962ff'},xaxis:xo,yaxis:yo,
     marker:{size:19,color:'#ffffff',line:{color:'#2962ff',width:2.2}},hoverinfo:'skip',cliponaxis:false});
  traces.push({type:'scatter',mode:'markers+text',x:[153],y:[p.iconY],text:['\u26A1\uFE0E'],textposition:'middle center',textfont:{family:'DejaVu Sans',size:15,color:'#9c27b0'},xaxis:xo,yaxis:yo,
     marker:{size:19,color:'#ffffff',line:{color:'#9c27b0',width:2.2}},hoverinfo:'skip',cliponaxis:false});

  // Panel frame
  const [fx0,fx1,fy0,fy1]=p.frame;
  rect(fx0,fy0,fx1,fy1,{line:{color:'#f0f3fa',width:2.5},fillcolor:'rgba(0,0,0,0)',layer:'below'});
  // Header
  const gray=t=>`<span style="color:${GRAY}">${t}</span>`;
  const sp='\u00a0';
  note(p.titleX,p.titleY,gray(p.head)+sp+sp+gray('O')+p.o+sp+sp+gray('H')+p.h+sp+sp+gray('L')+p.l+sp+sp+gray('C')+p.c+sp+sp+p.chg+sp+sp+gray('Vol')+p.vol+sp+'M',{font:{family:SANS,size:11.8,color:INK}});
  // Currency button
  const usdY=fy0+17.7, bx=x1+2.7;
  rect(bx,usdY-13,bx+46.5,usdY+13,{fillcolor:'#ffffff',line:{color:'#f0f3fa',width:1.5}});
  note(bx+20,usdY,'USD',{xanchor:'center',font:{family:SANS,size:12,color:INK}});
  // Auto-scale button
  const ay=y1+14.5, ax=x1+26.5;
  layout.shapes.push({type:'circle',xref:'paper',yref:'paper',x0:px(ax-9),x1:px(ax+9),y0:py(ay+9),y1:py(ay-9),fillcolor:'#f0f3fa',line:{width:0},layer:'above'});
  note(ax,ay,'A',{xanchor:'center',font:{family:SANS,size:11,color:'#434651'}});
  // Price labels stacked at the scale
  p.labels.forEach(([t,bg,fg,y,isPre])=>{
    note(x1+25,y,t,{xanchor:'center',bgcolor:bg,width:49,height:17,borderpad:0,align:'center',font:{family:SANS,size:13,color:fg}});
    if(isPre) note(x1-13.5,y,'Pre',{xanchor:'center',bgcolor:bg,width:26,height:17,borderpad:0,align:'center',font:{family:SANS,size:13,color:fg}});
  });
});

// Top line
note(10,15,'irishborninvestor created with TradingView.com, Aug 13, 2026 13:07 UTC+1',{font:{family:SANS,size:12,color:'#000000'}});
// Logo
const poly=d=>layout.shapes.push({type:'path',xref:'paper',yref:'paper',path:d.map((c,i)=>(i?'L':'M')+px(c[0])+','+py(c[1])).join(' ')+' Z',fillcolor:'#131722',line:{width:0},layer:'above'});
poly([[12,1326],[26,1326],[26,1340.5],[19,1340.5],[19,1332.5],[12,1332.5]]);
poly([[36,1326],[42,1326],[33.5,1340.5],[27,1340.5]]);
layout.shapes.push({type:'circle',xref:'paper',yref:'paper',x0:px(27.6),x1:px(33.6),y0:py(1332.5),y1:py(1326.5),fillcolor:'#131722',line:{width:0},layer:'above'});
note(48,1333,'<b>TradingView</b>',{font:{family:'Inter, '+SANS,size:20,color:'#131722'}});

Plotly.newPlot('c',traces,layout,{displayModeBar:false,staticPlot:true});
</script>
</body>
</html>
